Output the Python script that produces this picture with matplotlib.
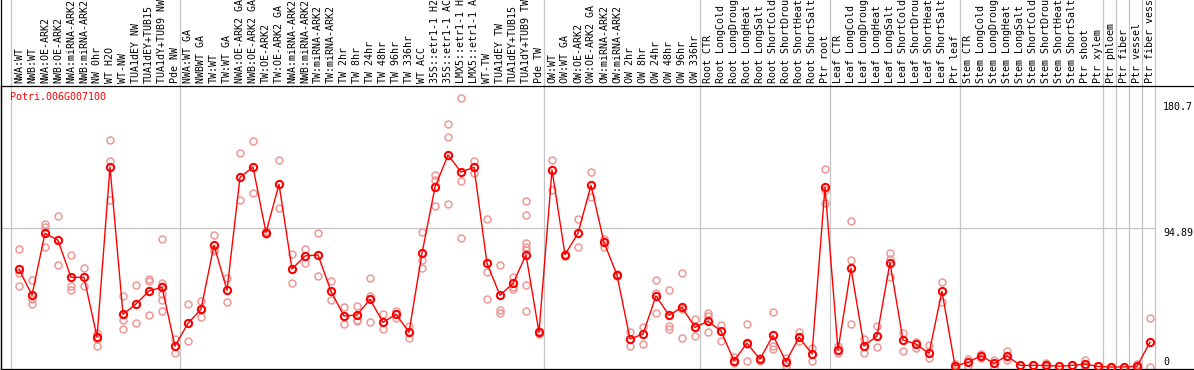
import matplotlib
matplotlib.use("Agg")
import matplotlib.pyplot as plt
from matplotlib.transforms import blended_transform_factory, offset_copy
from matplotlib.lines import Line2D

gene = "Potri.006G007100"

labels = [
    "NWA:WT", "NWB:WT", "NWA:OE-ARK2", "NWB:OE-ARK2", "NWA:miRNA-ARK2", "NWB:miRNA-ARK2",
    "NW 0hr", "WT H2O", "WT-NW", "TUA1dEY NW", "TUA1dEY+TUB15", "TUA1dY+TUB9 NW", "Pde NW",
    "NWA:WT GA", "NWBWT GA", "TW:WT", "TW:WT GA", "NWA:OE-ARK2 GA", "NWB:OE-ARK2 GA",
    "TW:OE-ARK2", "TW:OE-ARK2 GA", "NWA:miRNA-ARK2", "NWB:miRNA-ARK2", "TW:miRNA-ARK2",
    "TW:miRNA-ARK2", "TW 2hr", "TW 8hr", "TW 24hr", "TW 48hr", "TW 96hr", "TW 336hr",
    "WT ACC", "35S::etr1-1 H2", "35S::etr1-1 AC", "LMX5::etr1-1 H", "LMX5::etr1-1 A",
    "WT-TW", "TUA1dEY TW", "TUA1dEY+TUB15", "TUA1dY+TUB9 TW", "Pde TW",
    "OW:WT", "OW:WT GA", "OW:OE-ARK2", "OW:OE-ARK2 GA", "OW:miRNA-ARK2", "OW:miRNA-ARK2",
    "OW 2hr", "OW 8hr", "OW 24hr", "OW 48hr", "OW 96hr", "OW 336hr",
    "Root CTR", "Root LongCold", "Root LongDroug", "Root LongHeat", "Root LongSalt",
    "Root ShortCold", "Root ShortDrou", "Root ShortHeat", "Root ShortSalt", "Ptr root",
    "Leaf CTR", "Leaf LongCold", "Leaf LongDroug", "Leaf LongHeat", "Leaf LongSalt",
    "Leaf ShortCold", "Leaf ShortDrou", "Leaf ShortHeat", "Leaf ShortSalt", "Ptr leaf",
    "Stem CTR", "Stem LongCold", "Stem LongDroug", "Stem LongHeat", "Stem LongSalt",
    "Stem ShortCold", "Stem ShortDrou", "Stem ShortHeat", "Stem ShortSalt", "Ptr shoot",
    "Ptr xylem", "Ptr phloem", "Ptr fiber", "Ptr vessel", "Ptr fiber vess",
]

means = [
    66.7, 49.1, 91.3, 86.5, 61.2, 61.2, 20.5, 136.5, 36.0, 43.0, 51.9, 54.4, 14.3,
    29.8, 39.4, 83.1, 52.4, 129.5, 136.5, 91.7, 124.7, 66.9, 75.8, 76.5, 51.7, 34.8,
    35.5, 46.2, 30.5, 36.0, 23.7, 77.6, 122.7, 144.7, 133.1, 136.3, 70.8, 48.9, 57.1,
    76.5, 23.7,
    134.5, 76.7, 91.3, 124.0, 85.1, 62.8, 19.1, 22.5, 48.5, 35.3, 40.7, 27.1,
    31.2, 24.6, 4.3, 16.2, 5.3, 21.6, 3.6, 20.3, 8.9, 122.7,
    11.6, 67.4, 14.3, 21.2, 71.2, 18.4, 15.7, 9.3, 51.7, 0.7,
    3.2, 7.7, 2.5, 7.7, 1.1, 1.1, 1.1, 0.5, 1.1, 2.0, 0.4,
    0.0, 0.0, 0.5, 16.9,
]

replicates = [
    [80.3, 64.4, 55.3], [59.4, 46.2, 42.8], [97.4, 95.8, 81.7], [103.1, 69.6],
    [76.2, 55.3, 52.6], [67.4, 55.5], [23.0, 20.0, 19.1, 14.5], [154.7, 140.6, 114.0],
    [48.5, 32.1, 25.9], [55.8, 30.0], [59.8, 58.9, 35.3],
    [87.4, 57.6, 55.3, 49.6, 45.7, 38.0], [18.9, 14.3, 9.3],
    [42.8, 29.8, 17.7], [45.3, 39.4, 33.9], [90.1, 80.3, 79.0], [60.5, 44.4],
    [145.9, 114.0], [154.3, 118.8], [92.5, 91.7, 90.9], [141.3, 108.3],
    [77.1, 57.3], [80.5, 70.8], [91.3, 62.1], [58.7, 45.7], [41.2, 29.1],
    [41.6, 32.1, 31.4], [60.5, 48.5, 30.5], [36.2, 25.7], [38.2, 33.2], [28.0, 19.6],
    [91.9, 73.0, 67.4], [131.1, 127.6, 110.1], [165.7, 156.8, 111.1],
    [183.4, 127.0, 87.8], [140.6, 132.2], [100.8, 64.6, 46.6], [69.6, 38.9, 37.1],
    [61.6, 54.8, 53.2], [113.3, 103.5, 84.9, 82.0, 79.8, 56.0, 38.4], [24.8, 22.2],
    [141.3, 120.8], [76.0, 77.2], [100.8, 81.7], [132.9, 115.8], [87.4, 82.1],
    [63.5, 62.0], [23.7, 14.5], [27.5, 15.5], [59.2, 50.7, 36.6], [52.4, 28.0, 26.2],
    [64.0, 39.4, 19.6], [32.8, 21.0],
    [36.6, 34.8, 23.7], [28.4, 17.7], [7.0, 3.6, 2.5], [29.1, 15.5, 4.1],
    [6.2, 4.1], [37.5, 14.3, 12.1], [5.8, 0.7], [23.7, 18.0], [12.7, 4.3],
    [134.9, 120.8, 111.7],
    [14.3, 9.8], [99.7, 73.0, 29.1], [18.9, 9.3], [28.0, 13.7], [77.6, 73.5, 61.6],
    [23.0, 11.1], [17.3, 12.7], [15.0, 5.9], [57.8, 44.6], [1.9, 0.2],
    [5.7, 0.7], [9.2, 6.2], [5.0, 0.0], [11.1, 4.8], [1.1], [1.1], [2.5, 0.5],
    [0.5], [1.1], [4.8, 0.5], [0.4],
    [0.0], [0.0], [2.0, 0.0], [33.2, 0.2],
]

group_ends = [-1, 12, 40, 52, 62, 72, 83, 84, 85, 86, 87]
grid_value = 94.89
max_label = 180.7

W, H = 1194, 370
fig = plt.figure(figsize=(W / 100, H / 100), dpi=100)
ax_top_px, ax_bot_px = 86, 369
ax = fig.add_axes([1 / W, (H - ax_bot_px) / H, (W - 1) / W, (ax_bot_px - ax_top_px) / H])
x0_px, step_px = 19, 13
ax.set_xlim((1 - x0_px) / step_px, (W - x0_px) / step_px)
ax.set_ylim(-1.37, 191.8)
ax.set_xticks([])
ax.set_yticks([])
for s in ("left", "top", "bottom"):
    ax.spines[s].set_color("black")
    ax.spines[s].set_linewidth(0.9)
ax.spines["right"].set_visible(False)

blend = blended_transform_factory(ax.transData, ax.transAxes)
top_frac = ax_bot_px / (ax_bot_px - ax_top_px)

# left border extends through label area
fig.add_artist(Line2D([1.2 / W, 1.2 / W], [0, 1], transform=fig.transFigure,
                      color="black", lw=0.9))

grid_color = "#c4c4c4"
for k in group_ends:
    ax.plot([k + 0.42, k + 0.42], [0, top_frac], transform=blend, color=grid_color,
            lw=0.9, clip_on=False, zorder=1)
ax.plot([ax.get_xlim()[0], group_ends[-1] + 0.42], [grid_value, grid_value],
        color=grid_color, lw=0.9, zorder=1)

mono = "DejaVu Sans Mono"
fs = 7.2
lab_frac = (ax_bot_px - 83) / (ax_bot_px - ax_top_px)
for i, lab in enumerate(labels):
    ax.text(i, lab_frac, lab, rotation=90, ha="center", va="bottom", fontsize=fs,
            family=mono, transform=blend, clip_on=False)

pink = "#ee9898"
for i, reps in enumerate(replicates):
    ax.plot([i] * len(reps), reps, linestyle="none", marker="o", ms=5.0,
            mfc="none", mec=pink, mew=1.1, zorder=2)

ax.plot(range(len(means)), means, color="red", lw=1.0, marker="o", ms=5.2,
        mfc="none", mec="red", mew=1.5, zorder=3)

ax.text(9 / W, 1 - (97 - ax_top_px) / (ax_bot_px - ax_top_px), gene, color="red",
        fontsize=fs, family=mono, ha="left", va="center", transform=ax.transAxes)

xr = (1163 - x0_px) / step_px
for val, txt, dy in [(max_label, "180.7", -4.4), (grid_value, "94.89", -4.6), (0, "0", 5.0)]:
    tr = offset_copy(ax.transData, fig=fig, x=0, y=dy * 72 / 100, units="points")
    ax.text(xr, val, txt, fontsize=fs, family=mono, ha="left", va="center",
            transform=tr, clip_on=False)

fig.savefig("out.png", dpi=100)
